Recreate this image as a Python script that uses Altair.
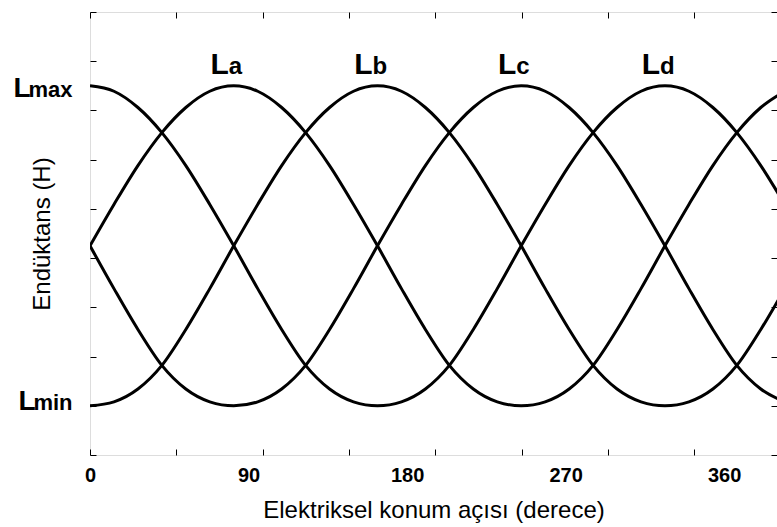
import altair as alt
import pandas as pd

# Inductance profile of one phase over one electrical period (one value per sample),
# in axis units: L_MIN = 1, L_MAX = 7.5.
STEP = 13.6  # spacing between samples along the position axis, degrees
profile = [7.5, 7.39, 7.06, 6.55, 5.88, 5.09, 4.25, 3.38, 2.55, 1.82, 1.34, 1.08,
           1.0, 1.08, 1.34, 1.82, 2.55, 3.38, 4.25, 5.09, 5.88, 6.55, 7.06, 7.39]
phases = ["a", "b", "c", "d"]
phase_peak = [6, 12, 18, 24]       # sample index at which each phase peaks
n_samples = 30

x_labels = [0, 90, 180, 270, 360]
x_ticks = [0, 49, 98, 147, 196, 245, 294, 343, 392]
y_ticks = list(range(0, 10))
L_MIN, L_MAX = 1.0, 7.5

FONT = "Liberation Sans"

rows = []
for name, peak in zip(phases, phase_peak):
    for k in range(n_samples):
        rows.append({"phase": name, "pos": k * STEP,
                     "L": profile[(k - peak) % len(profile)]})
curves = pd.DataFrame(rows)

peaks = pd.DataFrame({"phase": phases,
                      "pos": [p * STEP for p in phase_peak],
                      "L": [L_MAX] * len(phases)})

x_scale = alt.Scale(domain=[0, 390], nice=False, zero=False)
y_scale = alt.Scale(domain=[0, 9], nice=False, zero=False)

is_max = "datum.value > 4"
lab_offset = {"condition": {"test": is_max, "value": 11}, "value": 4}

base = alt.Chart(curves)

lines = base.mark_line(color="black", strokeWidth=3, interpolate="monotone",
                       clip=True).encode(
    x=alt.X("pos:Q", scale=x_scale, axis=alt.Axis(
        orient="bottom", values=x_labels, ticks=False, tickSize=0, domain=False,
        grid=False, labelFlush=False, labelFont=FONT, labelFontSize=20,
        labelFontWeight="bold", labelColor="black", labelPadding=26,
        labelBaseline="alphabetic",
        title="Elektriksel konum açısı (derece)", titleFont=FONT,
        titleFontSize=24, titleFontWeight="normal", titleColor="black",
        titleY=62, titleBaseline="alphabetic")),
    y=alt.Y("L:Q", scale=y_scale, axis=alt.Axis(
        orient="left", values=[L_MIN, L_MAX], labelExpr="'L'", ticks=False,
        tickSize=0, domain=False, grid=False, labelFont=FONT, labelFontSize=28,
        labelFontWeight="bold", labelColor="black", labelBaseline="alphabetic",
        labelAlign="right",
        labelPadding={"condition": {"test": is_max, "value": 60}, "value": 55},
        labelOffset=lab_offset,
        title="Endüktans (H)", titleFont=FONT, titleFontSize=24,
        titleFontWeight="normal", titleColor="black", titleX=-48,
        titleY=221.5, titleAlign="center", titleBaseline="middle")),
    detail="phase:N",
)

# inward tick marks on the bottom/left edges
ticks_bl = base.mark_line(opacity=0).encode(
    x=alt.X("pos:Q", scale=x_scale, axis=alt.Axis(
        orient="bottom", values=x_ticks, labels=False, domain=False, grid=False,
        tickSize=6, tickColor="black", tickWidth=1, offset=-6, title=None)),
    y=alt.Y("L:Q", scale=y_scale, axis=alt.Axis(
        orient="left", values=y_ticks, labels=False, domain=False, grid=False,
        tickSize=6, tickColor="black", tickWidth=1, offset=-6, title=None)),
    detail="phase:N",
)

# inward tick marks on the top/right edges
ticks_tr = base.mark_line(opacity=0).encode(
    x=alt.X("pos:Q", scale=x_scale, axis=alt.Axis(
        orient="top", values=x_ticks, labels=False, domain=False, grid=False,
        tickSize=6, tickColor="black", tickWidth=1, offset=-6, title=None)),
    y=alt.Y("L:Q", scale=y_scale, axis=alt.Axis(
        orient="right", values=y_ticks, labels=False, domain=False, grid=False,
        tickSize=6, tickColor="black", tickWidth=1, offset=-6, title=None)),
    detail="phase:N",
)

# "max" / "min" subscripts next to the L tick labels
subs = base.mark_line(opacity=0).encode(
    x=alt.X("pos:Q", scale=x_scale, axis=None),
    y=alt.Y("L:Q", scale=y_scale, axis=alt.Axis(
        orient="left", values=[L_MIN, L_MAX],
        labelExpr="datum.value > 4 ? 'max' : 'min'", ticks=False, tickSize=0,
        domain=False, grid=False, labelFont=FONT, labelFontSize=22,
        labelFontWeight="bold", labelColor="black", labelBaseline="alphabetic",
        labelAlign="right", labelPadding=18, labelOffset=lab_offset,
        title=None)),
    detail="phase:N",
)

# phase names above each peak
ann = alt.Chart(peaks)
big_l = ann.mark_text(text="L", align="right", baseline="alphabetic", dx=-5,
                      dy=-12, font=FONT, fontSize=30, fontWeight="bold",
                      color="black").encode(
    x=alt.X("pos:Q", scale=x_scale, axis=None),
    y=alt.Y("L:Q", scale=y_scale, axis=None),
)
sub_l = ann.mark_text(align="left", baseline="alphabetic", dx=-5, dy=-12,
                      font=FONT, fontSize=24, fontWeight="bold",
                      color="black").encode(
    x=alt.X("pos:Q", scale=x_scale, axis=None),
    y=alt.Y("L:Q", scale=y_scale, axis=None),
    text="phase:N",
)

chart = alt.layer(lines, ticks_bl, ticks_tr, subs, big_l, sub_l).resolve_axis(
    x="independent", y="independent"
).properties(
    width=687, height=443,
    padding={"left": 90, "top": 12, "right": 0, "bottom": 72},
    autosize=alt.AutoSizeParams(type="none"),
    background="white",
).configure_view(stroke="black", strokeWidth=1.5).configure(font=FONT)

chart.save("out.html", embed_options={"renderer": "svg", "actions": False})
